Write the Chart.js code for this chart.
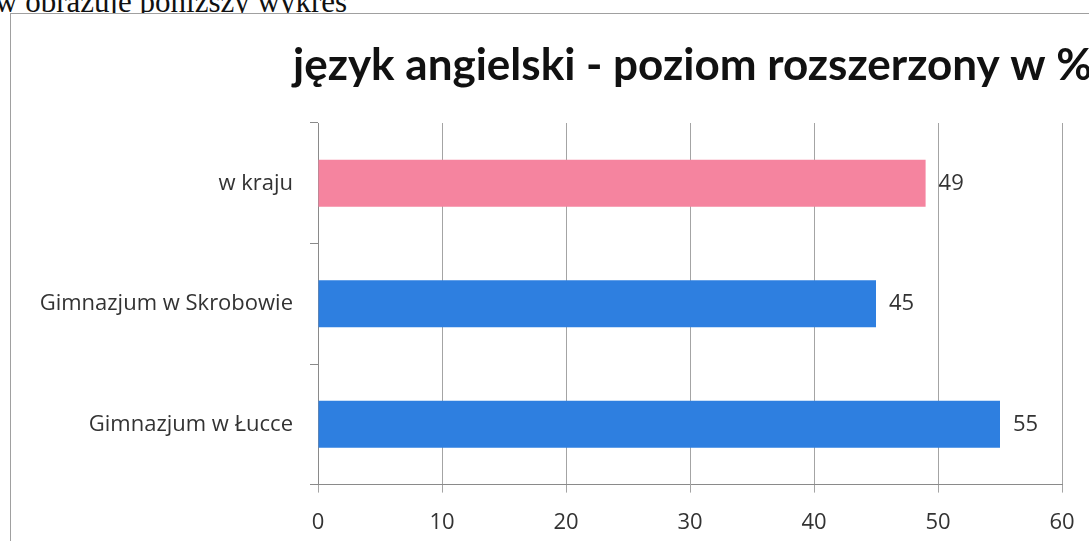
<!DOCTYPE html>
<html>
<head>
<meta charset="utf-8">
<script src="https://cdn.jsdelivr.net/npm/chart.js@4/dist/chart.umd.min.js"></script>
<style>
  html, body { margin: 0; padding: 0; background: #fff; overflow: hidden; width: 1089px; height: 541px; }
  #naglowek { position: absolute; left: -5px; top: -16px; font-family: 'Liberation Serif', serif; font-size: 31px; color: #111; white-space: nowrap; }
  #ramka { position: absolute; left: 10px; top: 13px; width: 1100px; height: 600px; border: 1px solid #a0a0a0; background: #fff; }
</style>
</head>
<body>
<div id="naglowek">w obrazuje poniższy wykres</div>
<div id="ramka"><canvas id="wykres" width="1100" height="600"></canvas></div>
<script>
// ===== DANE =====
const tytul = 'język angielski - poziom rozszerzony w %';
const kategorie = ['w kraju', 'Gimnazjum w Skrobowie', 'Gimnazjum w Łucce'];
const wartosci = [49, 45, 55];
const kolory = ['#f5849f', '#2e7fe0', '#2e7fe0'];
const ticksX = [0, 10, 20, 30, 40, 50, 60];

// tytuł - w oryginale przesunięty w prawo i ucięty przy krawędzi
const tytulPlugin = {
    id: 'tytul',
    afterDraw(chart) {
        const ctx = chart.ctx;
        ctx.save();
        ctx.font = "bold 44px Lato, sans-serif";
        ctx.fillStyle = '#111';
        ctx.textBaseline = 'alphabetic';
        ctx.textAlign = 'left';
        ctx.fillText(tytul, 282, 66);
        ctx.restore();
    },
};

// etykiety wartości obok słupków
const etykietyPlugin = {
    id: 'etykiety',
    afterDatasetsDraw(chart) {
        const ctx = chart.ctx;
        const meta = chart.getDatasetMeta(0);
        ctx.save();
        ctx.font = "22px 'Open Sans', sans-serif";
        ctx.fillStyle = '#333';
        ctx.textBaseline = 'middle';
        ctx.textAlign = 'left';
        meta.data.forEach((bar, i) => {
            ctx.fillText(String(wartosci[i]), bar.x + 13, bar.y);
        });
        ctx.restore();
    },
};

Chart.defaults.font.family = "'Open Sans', sans-serif";
Chart.defaults.color = '#333';

new Chart(document.getElementById('wykres').getContext('2d'), {
    type: 'bar',
    data: {
        labels: kategorie,
        datasets: [
            {
                data: wartosci,
                backgroundColor: kolory,
                borderWidth: 0,
                categoryPercentage: 1,
                barPercentage: 0.39,
            },
        ],
    },
    options: {
        indexAxis: 'y',
        responsive: false,
        animation: false,
        layout: { padding: { top: 109, right: 49, bottom: 61, left: 0 } },
        plugins: {
            legend: { display: false },
            tooltip: { enabled: false },
            title: { display: false },
        },
        scales: {
            x: {
                min: 0,
                max: 60,
                afterBuildTicks: (scale) => {
                    scale.ticks = ticksX.map((v) => ({ value: v }));
                },
                grid: { color: '#a4a4a4', lineWidth: 1, tickLength: 8 },
                border: { color: '#8a8a8a' },
                ticks: { padding: 17, font: { size: 22 }, color: '#333' },
            },
            y: {
                afterFit: (scale) => {
                    scale.width = 307;
                },
                grid: { offset: true, drawOnChartArea: false, drawTicks: true, tickLength: 8, color: '#8a8a8a' },
                border: { color: '#8a8a8a' },
                ticks: { padding: 17, font: { size: 22 }, color: '#333' },
            },
        },
    },
    plugins: [tytulPlugin, etykietyPlugin],
});
</script>
</body>
</html>
